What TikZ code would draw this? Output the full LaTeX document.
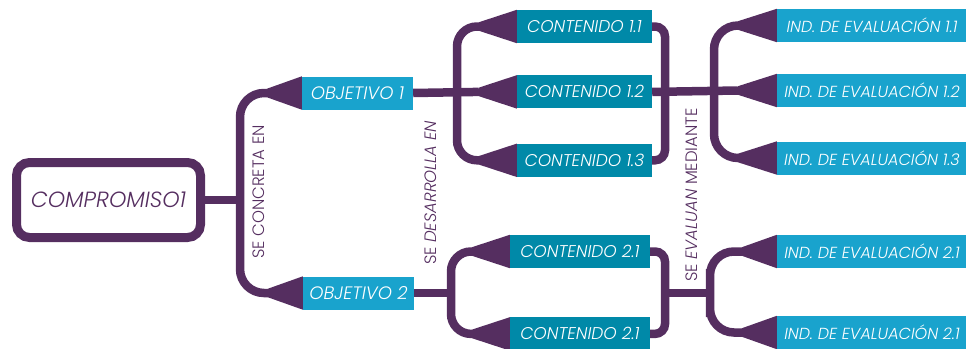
\documentclass[tikz,border=0pt]{standalone}
\usepackage{fontspec}
\setmainfont{Poppins Light}[ItalicFont={Poppins Light Italic}]
\usetikzlibrary{positioning,calc}
\definecolor{morado}{HTML}{552E60}
\definecolor{celeste}{HTML}{19A3CD}
\definecolor{turquesa}{HTML}{0089A8}
% flared end of a branch in front of a box
\newcommand{\taper}[2][38]{\fill[morado] ($(#2.west)+(-#1,-4.25)$) -- (#2.north west) -- (#2.south west) -- ($(#2.west)+(-#1,4.25)$) -- cycle;}
\begin{document}
\begin{tikzpicture}[x=1pt, y=-1pt, node distance=32pt,
                    rama/.style={draw=morado, line width=8.5pt},
                    caja/.style={inner sep=0pt, minimum height=33pt, text=white},
                    objbox/.style={caja, fill=celeste, minimum width=111pt, font=\fontsize{18}{18}\selectfont\itshape},
                    conbox/.style={caja, fill=turquesa, minimum width=135pt, font=\fontsize{17}{17}\selectfont\itshape},
                    indbox/.style={caja, fill=celeste, minimum width=190pt, font=\fontsize{16}{16}\selectfont\itshape},
                    rotulo/.style={rotate=90, text=morado, font=\fontsize{16.5}{16.5}\selectfont}]
\useasboundingbox (0,0) rectangle (966,348);

\node[draw=morado, line width=9pt, rounded corners=13pt, minimum width=184pt, minimum height=75pt,
      text=morado, font=\fontsize{22}{22}\selectfont\itshape] (comp) at (108.5,200) {COMPROMISO1};

\node[objbox] (obj1) at (357.5,93) {OBJETIVO 1};
\node[objbox] (obj2) at (358.5,293) {OBJETIVO 2};

\node[conbox] (c11) at (584.5,26.5) {CONTENIDO 1.1};
\node[conbox] (c12) [below=of c11] {CONTENIDO 1.2};
\node[conbox] (c13) [below=35pt of c12] {CONTENIDO 1.3};
\node[conbox, minimum width=140pt] (c21) at (580,251.5) {CONTENIDO 2.1};
\node[conbox, minimum width=140pt] (c22) [below=49pt of c21] {CONTENIDO 2.1};

\node[indbox] (i11) at (872,25.5) {IND. DE EVALUACIÓN 1.1};
\node[indbox] (i12) at (872,90.5) {IND. DE EVALUACIÓN 1.2};
\node[indbox] (i13) at (872,158) {IND. DE EVALUACIÓN 1.3};
\node[indbox] (i21) at (872,251.5) {IND. DE EVALUACIÓN 2.1};
\node[indbox] (i22) at (872,332.5) {IND. DE EVALUACIÓN 2.1};

\node[rotulo] (t1) at (259,192) {SE CONCRETA EN};
\node[rotulo] (t2) at (431,193) {SE \textit{DESARROLLA EN}};
\node[rotulo] (t3) at (692,195) {SE \textit{EVALUAN} MEDIANTE};

% trunks
\coordinate (r1) at (240,200);
\coordinate (r2) at (457,90.5);
\coordinate (r3) at (665,90.5);
\coordinate (r4) at (714,90.5);
\coordinate (r5) at (451,293);
\coordinate (r6) at (665,293);
\coordinate (r7) at (710,293);

\path[rama]
    (comp.east) edge (r1)
    (obj1.east) edge ($(c12.west)+(-38,0)$)
    (c12.east) edge ($(i12.west)+(-39,0)$)
    (obj2.east) edge (r5)
    (r6) edge (r7);

\draw[rama, rounded corners=24pt] ($(obj1.west)+(-35,0)$) -| (r1) |- ($(obj2.west)+(-35,0)$);
\draw[rama, rounded corners=20pt] ($(c11.west)+(-38,0)$) -| (r2) |- ($(c13.west)+(-38,0)$);
\draw[rama, rounded corners=10pt] (c11.east) -| (r3) |- (c13.east);
\draw[rama, rounded corners=24pt] ($(i11.west)+(-39,0)$) -| (r4) |- ($(i13.west)+(-39,0)$);
\draw[rama, rounded corners=20pt] ($(c21.west)+(-38,0)$) -| (r5) |- ($(c22.west)+(-38,0)$);
\draw[rama, rounded corners=10pt] (c21.east) -| (r6) |- (c22.east);
\draw[rama, rounded corners=24pt] ($(i21.west)+(-35,0)$) -| (r7) |- ($(i22.west)+(-35,0)$);

\taper[35]{obj1} \taper[35]{obj2}
\taper{c11} \taper{c12} \taper{c13} \taper{c21} \taper{c22}
\taper[39]{i11} \taper[39]{i12} \taper[39]{i13} \taper[35]{i21} \taper[35]{i22}
\end{tikzpicture}
\end{document}
